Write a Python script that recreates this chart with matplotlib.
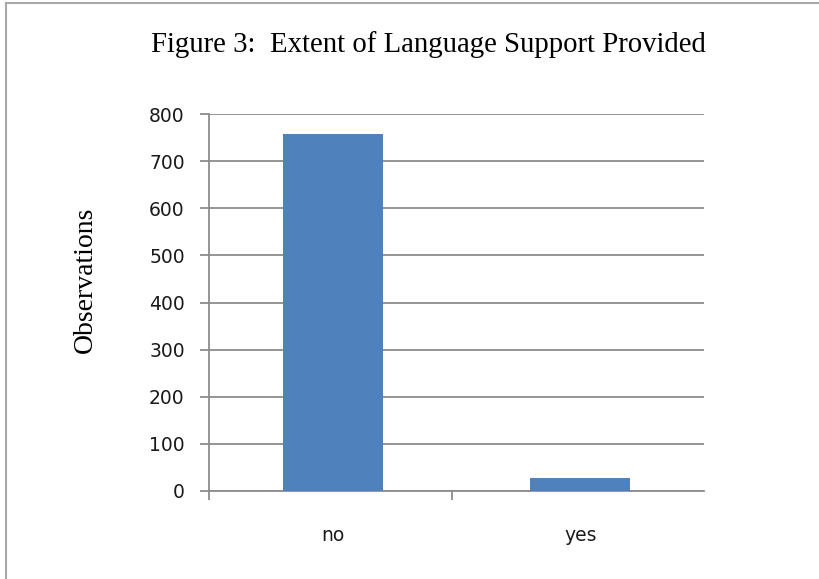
import matplotlib
matplotlib.use("Agg")
import matplotlib.pyplot as plt
from matplotlib.lines import Line2D

# --- Data -------------------------------------------------------------------
categories = ["no", "yes"]
observations = [758, 28]
yticks = [0, 100, 200, 300, 400, 500, 600, 700, 800]

W, H = 820, 579
fig = plt.figure(figsize=(W / 100, H / 100), dpi=100)
fig.patch.set_facecolor("white")

# grey chart border: only the left and top edges show in the crop
frame = dict(transform=fig.transFigure, color="#a8a8a8", linewidth=1.5)
fig.add_artist(Line2D([6 / W, 6 / W], [0, 1 - 3 / H], **frame))
fig.add_artist(Line2D([6 / W, 1], [1 - 3 / H, 1 - 3 / H], **frame))

ax = fig.add_axes([209 / W, 1 - 491 / H, (704 - 209) / W, (491 - 114) / H])
x = range(len(categories))
ax.bar(x, observations, width=0.405, color="#4F81BD", zorder=3)

ax.set_xlim(-0.5, 1.5)
ax.set_ylim(0, 800)
ax.set_yticks(yticks)
ax.grid(axis="y", color="#8c8c8c", linewidth=1.3, zorder=0)

for s in ("top", "right"):
    ax.spines[s].set_visible(False)
for s in ("left", "bottom"):
    ax.spines[s].set_color("#8c8c8c")
    ax.spines[s].set_linewidth(1.3)

ax.set_xticks(list(x))
ax.set_xticklabels(categories)
# Excel puts the divider tick slightly left of the midpoint, none at the end
ax.set_xticks([-0.5, 0.48], minor=True)
ax.tick_params(axis="x", which="major", length=0, pad=25,
               labelsize=13.5, labelcolor="#1a1a1a")
ax.tick_params(axis="x", which="minor", length=6.5, width=1.3, color="#8c8c8c")
ax.tick_params(axis="y", length=6.5, width=1.3, color="#8c8c8c", pad=11,
               labelsize=13.5, labelcolor="#1a1a1a")
for lab in ax.get_xticklabels() + ax.get_yticklabels():
    lab.set_family("DejaVu Sans")

fig.text(428 / W, 1 - 45 / H, "Figure 3:  Extent of Language Support Provided",
         ha="center", va="center", family="Liberation Serif", fontsize=20.7)
fig.text(85 / W, 1 - 280 / H, "Observations", rotation=90,
         ha="center", va="center", family="Liberation Serif", fontsize=20)

fig.savefig("out.png", dpi=100)
